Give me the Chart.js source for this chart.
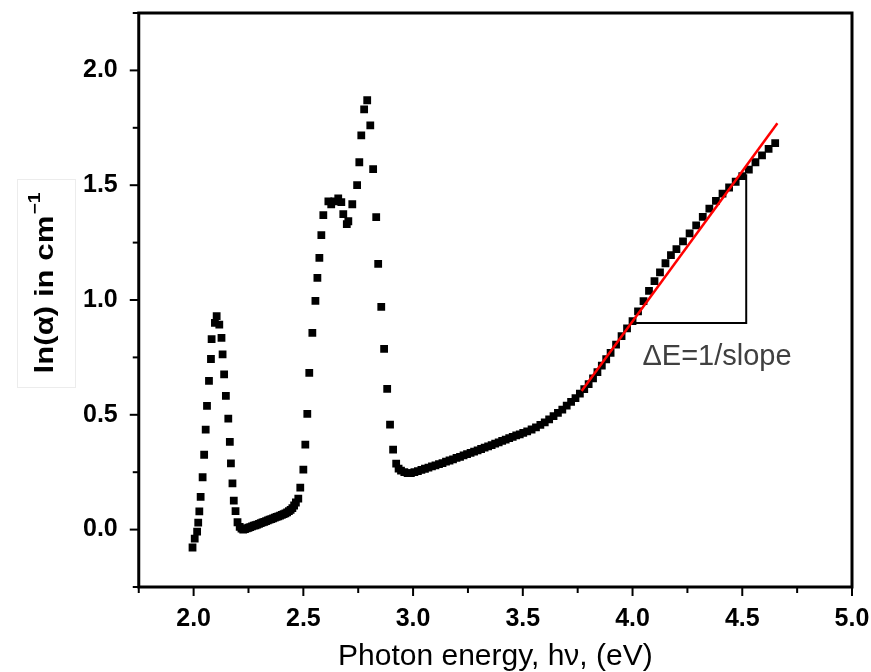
<!DOCTYPE html>
<html>
<head>
<meta charset="utf-8">
<script src="https://cdn.jsdelivr.net/npm/chart.js@4.4.0/dist/chart.umd.min.js"></script>
<style>
  html, body { margin: 0; padding: 0; background: #fff; }
</style>
</head>
<body>
<canvas id="chart" width="871" height="672"></canvas>
<script>
// photon energy (eV) and ln(alpha)
const energy = [
  1.995, 2.005, 2.016, 2.021, 2.026, 2.032, 2.041, 2.048, 2.055, 2.061, 2.070, 2.079, 2.082, 2.097, 2.105,
  2.117, 2.127, 2.132, 2.139, 2.147, 2.158, 2.165, 2.170, 2.177, 2.183, 2.191, 2.200,
  2.210, 2.218, 2.226, 2.234, 2.242, 2.250, 2.258, 2.266, 2.274, 2.282, 2.290, 2.298, 2.306, 2.314,
  2.322, 2.330, 2.338, 2.346, 2.354, 2.362, 2.370, 2.378, 2.386, 2.394, 2.402, 2.410, 2.418, 2.426,
  2.434, 2.442, 2.450, 2.458, 2.466,
  2.477, 2.486, 2.500, 2.509, 2.518, 2.527, 2.541, 2.555, 2.564, 2.573, 2.582, 2.591, 2.614, 2.627,
  2.641, 2.659, 2.673, 2.682, 2.698, 2.705, 2.723, 2.745, 2.755, 2.764, 2.777, 2.791, 2.805, 2.818,
  2.832, 2.841, 2.855, 2.868, 2.882, 2.895, 2.909, 2.923, 2.934, 2.945, 2.960, 2.975,
  2.990, 3.006, 3.022, 3.038, 3.054, 3.070, 3.086, 3.102, 3.118, 3.134, 3.150, 3.166, 3.182, 3.198,
  3.214, 3.230, 3.246, 3.262, 3.278, 3.294, 3.310, 3.326, 3.342, 3.358, 3.374, 3.390, 3.406, 3.422,
  3.438, 3.454, 3.470, 3.486, 3.502, 3.520, 3.540, 3.560, 3.580, 3.600, 3.620, 3.640, 3.660, 3.680,
  3.700, 3.720, 3.740, 3.760, 3.780, 3.800, 3.820, 3.840, 3.860, 3.880, 3.900, 3.925, 3.950, 3.975,
  4.000, 4.025, 4.050, 4.075, 4.100, 4.125, 4.150, 4.175, 4.200, 4.230, 4.260, 4.290, 4.320, 4.350,
  4.380, 4.410, 4.440, 4.470, 4.500, 4.530, 4.560, 4.590, 4.620, 4.650
];
const lnAlpha = [
  -0.078, -0.039, -0.009, 0.030, 0.079, 0.143, 0.228, 0.326, 0.435, 0.539, 0.648, 0.743, 0.830, 0.900, 0.930,
  0.893, 0.835, 0.763, 0.676, 0.582, 0.483, 0.382, 0.288, 0.201, 0.126, 0.080, 0.032,
  0.012, 0.004, 0.000, 0.002, 0.005, 0.008, 0.011, 0.014, 0.017, 0.019, 0.022, 0.025, 0.028, 0.031,
  0.034, 0.037, 0.040, 0.043, 0.046, 0.049, 0.052, 0.055, 0.058, 0.061, 0.064, 0.067, 0.071, 0.075,
  0.080, 0.086, 0.094, 0.105, 0.118,
  0.135, 0.183, 0.261, 0.370, 0.504, 0.683, 0.857, 0.996, 1.096, 1.183, 1.283, 1.370, 1.430, 1.417,
  1.430, 1.443, 1.426, 1.374, 1.330, 1.343, 1.417, 1.500, 1.600, 1.717, 1.830, 1.870, 1.761, 1.570,
  1.361, 1.157, 0.970, 0.787, 0.613, 0.457, 0.348, 0.287, 0.266, 0.257, 0.250, 0.246,
  0.246, 0.250, 0.255, 0.260, 0.265, 0.270, 0.275, 0.280, 0.285, 0.290, 0.296, 0.301, 0.306, 0.312,
  0.317, 0.323, 0.329, 0.334, 0.340, 0.345, 0.351, 0.357, 0.362, 0.368, 0.374, 0.380, 0.386, 0.392,
  0.398, 0.404, 0.410, 0.415, 0.421, 0.428, 0.436, 0.445, 0.456, 0.467, 0.480, 0.494, 0.508, 0.523,
  0.540, 0.556, 0.573, 0.592, 0.612, 0.634, 0.659, 0.686, 0.714, 0.742, 0.770, 0.806, 0.843, 0.876,
  0.908, 0.950, 0.995, 1.040, 1.082, 1.120, 1.160, 1.195, 1.222, 1.255, 1.290, 1.325, 1.362, 1.398,
  1.432, 1.463, 1.490, 1.515, 1.540, 1.568, 1.600, 1.630, 1.658, 1.683
];

// linear fit (red) and the slope triangle
const fitX = [3.768, 4.660];
const fitY = [0.604, 1.770];
const triX = [4.005, 4.518, 4.518];
const triY = [0.900, 0.900, 1.548];

const xMajor = [2.0, 2.5, 3.0, 3.5, 4.0, 4.5, 5.0];
const xLabels = ['2.0', '2.5', '3.0', '3.5', '4.0', '4.5', '5.0'];
const yMajor = [0.0, 0.5, 1.0, 1.5, 2.0];
const yLabels = ['0.0', '0.5', '1.0', '1.5', '2.0'];

const xTitle = 'Photon energy, h\u03bd, (eV)';
const yTitle = 'ln(\u03b1) in cm';
const yTitleSup = '\u22121';
const noteText = '\u0394E=1/slope';
const notePos = [4.045, 0.752];

const FONT = '"Liberation Sans", Arial, sans-serif';

function pts(xs, ys) {
  return xs.map((x, i) => ({ x: x, y: ys[i] }));
}

function labelFor(majors, labels) {
  return function (v) {
    const i = majors.findIndex(m => Math.abs(m - v) < 1e-6);
    return i >= 0 ? labels[i] : '';
  };
}

// frame, ticks, titles and note
const decor = {
  id: 'decor',
  afterDraw(chart) {
    const ctx = chart.ctx;
    const a = chart.chartArea;
    const xs = chart.scales.x;
    const ys = chart.scales.y;
    ctx.save();
    ctx.strokeStyle = '#000';
    ctx.lineWidth = 3;
    ctx.strokeRect(a.left, a.top, a.right - a.left, a.bottom - a.top);

    ctx.lineWidth = 2;
    xs.ticks.forEach(t => {
      const px = xs.getPixelForValue(t.value);
      const major = xMajor.some(m => Math.abs(m - t.value) < 1e-6);
      ctx.beginPath();
      ctx.moveTo(px, a.bottom);
      ctx.lineTo(px, a.bottom + (major ? 9 : 6));
      ctx.stroke();
    });
    ys.ticks.forEach(t => {
      const py = ys.getPixelForValue(t.value);
      const major = yMajor.some(m => Math.abs(m - t.value) < 1e-6);
      ctx.beginPath();
      ctx.moveTo(a.left, py);
      ctx.lineTo(a.left - (major ? 9 : 6), py);
      ctx.stroke();
    });

    // x title
    ctx.fillStyle = '#000';
    ctx.font = '30px ' + FONT;
    ctx.textAlign = 'center';
    ctx.textBaseline = 'alphabetic';
    ctx.fillText(xTitle, (a.left + a.right) / 2, 665);

    // y title in a faint box, text a little stretched like the original text box
    ctx.strokeStyle = '#ececec';
    ctx.lineWidth = 1;
    ctx.strokeRect(17.5, 179.5, 58, 208);
    ctx.save();
    ctx.translate(43, 283);
    ctx.rotate(-Math.PI / 2);
    ctx.scale(1.2, 1);
    ctx.font = 'bold 26px ' + FONT;
    const w1 = ctx.measureText(yTitle).width;
    ctx.font = 'bold 16px ' + FONT;
    const w2 = ctx.measureText(yTitleSup).width;
    const total = w1 + w2 + 1;
    ctx.textAlign = 'left';
    ctx.textBaseline = 'alphabetic';
    ctx.font = 'bold 26px ' + FONT;
    ctx.fillText(yTitle, -total / 2, 10);
    ctx.font = 'bold 16px ' + FONT;
    ctx.fillText(yTitleSup, -total / 2 + w1 + 1, -3);
    ctx.restore();

    // slope note
    ctx.fillStyle = '#404040';
    ctx.font = '29px ' + FONT;
    ctx.textAlign = 'left';
    ctx.textBaseline = 'middle';
    ctx.fillText(noteText, xs.getPixelForValue(notePos[0]), ys.getPixelForValue(notePos[1]));
    ctx.restore();
  }
};

new Chart(document.getElementById('chart'), {
  type: 'scatter',
  data: {
    datasets: [
      {
        type: 'line',
        data: pts(fitX, fitY),
        borderColor: '#ff0000',
        borderWidth: 2.5,
        pointRadius: 0,
        fill: false
      },
      {
        type: 'line',
        data: pts(triX, triY),
        borderColor: '#000',
        borderWidth: 2,
        pointRadius: 0,
        fill: false
      },
      {
        data: pts(energy, lnAlpha),
        pointStyle: 'rect',
        pointRadius: 5.5,
        backgroundColor: '#000',
        borderWidth: 0
      }
    ]
  },
  options: {
    responsive: false,
    animation: false,
    events: [],
    layout: { padding: { left: 83, right: 19, top: 13, bottom: 38 } },
    plugins: {
      legend: { display: false },
      tooltip: { enabled: false }
    },
    scales: {
      x: {
        type: 'linear',
        min: 1.75,
        max: 5.0,
        border: { display: false },
        grid: { drawOnChartArea: false, color: 'rgba(0,0,0,0)', tickLength: 17 },
        ticks: {
          stepSize: 0.25,
          autoSkip: false,
          maxRotation: 0,
          padding: 0,
          color: '#000',
          font: { family: FONT, size: 25, weight: 'bold' },
          callback: labelFor(xMajor, xLabels)
        }
      },
      y: {
        type: 'linear',
        min: -0.25,
        max: 2.25,
        border: { display: false },
        grid: { drawOnChartArea: false, color: 'rgba(0,0,0,0)', tickLength: 21 },
        ticks: {
          stepSize: 0.25,
          autoSkip: false,
          padding: 0,
          color: '#000',
          font: { family: FONT, size: 25, weight: 'bold', lineHeight: 1 },
          callback: labelFor(yMajor, yLabels)
        }
      }
    }
  },
  plugins: [decor]
});
</script>
</body>
</html>
